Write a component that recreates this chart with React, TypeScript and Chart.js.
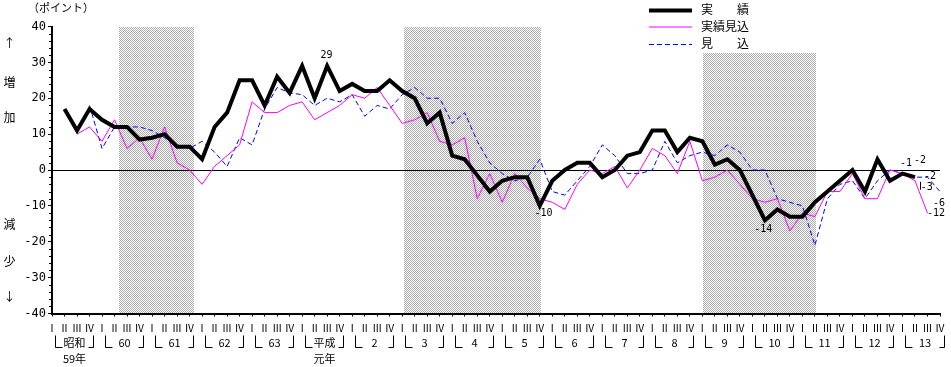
import React, { useEffect, useRef } from 'react';
import { Chart, registerables } from 'chart.js';

Chart.register(...registerables);

// ---- data ----
const QUARTER_NAMES = ['Ⅰ', 'Ⅱ', 'Ⅲ', 'Ⅳ'];
const YEAR_NAMES = ['昭和', '60', '61', '62', '63', '平成', '2', '3', '4', '5', '6', '7', '8', '9', '10', '11', '12', '13'];
const YEAR_SUB_NAMES = ['59年', '', '', '', '', '元年', '', '', '', '', '', '', '', '', '', '', '', ''];
const CATEGORIES = YEAR_NAMES.flatMap(() => QUARTER_NAMES);

const Y_MIN = -40;
const Y_MAX = 40;
const Y_STEP = 10;
const Y_MINOR_STEP = 2;

const SERIES_NAMES = ['実　　績', '実績見込', '見　　込'];

// 実績
const JISSEKI = [null, 17, 11, 17, 14, 12, 12, 8.5, 9, 10, 6.5, 6.5, 3, 12, 16, 25, 25, 18, 26, 21.5, 29, 20, 29, 22, 24, 22, 22, 25, 22, 20, 13, 16, 4, 3, -1.5, -6, -3, -2, -2, -10, -3, 0, 2, 2, -2, 0, 4, 5, 11, 11, 5, 9, 8, 1.5, 3, 0, -7, -14, -11, -13, -13, -9, -6, -3, 0, -6, 3, -3, -1, -2, null, null];
// 実績見込
const JISSEKI_MIKOMI = [null, null, 10, 12, 8, 14, 6, 9, 3, 12, 2, 0, -4, 1, 4, 7, 19, 16, 16, 18, 19, 14, 16, 18, 21, 20, 23, 18, 13, 14, 16, 8, 7, 9, -8, -1, -9, -1, -5, -8, -9, -11, -4, 0, -1, 1, -5, 0, 6, 4, -1, 8, -3, -2, 0, -4, -8, -9, -8, -17, -12, -13, -6, -6, -1, -8, -8, 0, -1, -3, -12, null];
// 見込
const MIKOMI = [null, null, null, 18, 6, 12, 12, 12, 11, 9, 7, 6, 8, 5, 1, 9, 7, 17, 23, 21.5, 21, 18, 20, 19, 21, 15, 18, 17, 21, 23, 20, 20, 13, 16, 8, 2, -1, -3, -2, 3, -6, -7, -3, 1, 7, 4, -1, -1, 0, 8, 2, 4, 5, 4, 7, 5, 0, 0, -8, -9, -10, -21, -8, -4, -3, -8, -3, 0, -1, -2, -2, -6];

// shaded periods (in quarter-index units) and their top value
const SHADE_FROM = [5.37, 28.12, 52.08];
const SHADE_TO = [11.36, 39.12, 61.08];
const SHADE_TOP = [40, 40, 32.6];

// value annotations
const NOTE_TEXT = ['29', '-10', '-14', '-1', '-2', '-2', '-3', '-6', '-12'];
const NOTE_SERIES = [0, 0, 0, 0, 0, 2, 1, 2, 1];
const NOTE_INDEX = [22, 39, 57, 68, 69, 70, 69, 71, 70];

// ---- styles ----
const NOTE_DX = [-6.7, -5.2, -10.6, -2.4, -0.9, -3.5, 5.8, -7, -0.5];
const NOTE_DY = [-11, 8, 9.5, -10.5, -17, -1, 7, 11.5, 0];
const SERIES_COLORS = ['#000000', '#ff00ff', '#0000ff'];
const SERIES_WIDTHS = [4, 1, 1];
const SERIES_DASH = [[], [], [5, 3]];
const CJK = '"Noto Sans CJK JP", sans-serif';
const MONO = '"DejaVu Sans Mono", monospace';

function makePattern(ctx: CanvasRenderingContext2D) {
  const pc = document.createElement('canvas');
  pc.width = 2;
  pc.height = 2;
  const p = pc.getContext('2d')!;
  p.fillStyle = '#ffffff';
  p.fillRect(0, 0, 2, 2);
  p.fillStyle = '#ababab';
  p.fillRect(0, 0, 1, 1);
  p.fillRect(1, 1, 1, 1);
  return ctx.createPattern(pc, 'repeat');
}

const decor = {
  id: 'decor',
  beforeDraw(chart: any) {
    const { ctx, scales } = chart;
    const x = scales.x;
    const y = scales.y;
    ctx.save();
    const pat = makePattern(ctx);
    if (pat) ctx.fillStyle = pat;
    for (let k = 0; k < SHADE_FROM.length; k++) {
      const x0 = Math.round(x.getPixelForValue(SHADE_FROM[k]));
      const x1 = Math.round(x.getPixelForValue(SHADE_TO[k]));
      const y0 = Math.round(y.getPixelForValue(SHADE_TOP[k]));
      const y1 = Math.round(y.getPixelForValue(Y_MIN));
      ctx.fillRect(x0, y0, x1 - x0, y1 - y0);
    }
    ctx.restore();
  },
  afterDraw(chart: any) {
    const { ctx, chartArea, scales } = chart;
    const x = scales.x;
    const y = scales.y;
    ctx.save();
    ctx.fillStyle = '#000';
    ctx.strokeStyle = '#000';
    ctx.lineWidth = 1;

    // minor y ticks
    ctx.beginPath();
    for (let v = Y_MIN; v <= Y_MAX; v += Y_MINOR_STEP) {
      if (v % Y_STEP === 0) continue;
      const yy = Math.round(y.getPixelForValue(v)) + 0.5;
      ctx.moveTo(chartArea.left - 3, yy);
      ctx.lineTo(chartArea.left, yy);
    }
    ctx.stroke();

    // year brackets
    const b = chartArea.bottom;
    ctx.font = `11px ${CJK}`;
    ctx.textAlign = 'center';
    ctx.textBaseline = 'middle';
    for (let j = 0; j < YEAR_NAMES.length; j++) {
      const x0 = Math.round(x.getPixelForValue(j * 4) + 2.5) + 0.5;
      const x1 = Math.round(x.getPixelForValue(j * 4 + 3) + 3.5) + 0.5;
      const yTop = Math.round(b + 21.5) + 0.5;
      const yBot = Math.round(b + 33) + 0.5;
      ctx.beginPath();
      ctx.moveTo(x0, yTop);
      ctx.lineTo(x0, yBot);
      ctx.lineTo(x0 + 7, yBot);
      ctx.moveTo(x1 - 5, yBot);
      ctx.lineTo(x1, yBot);
      ctx.lineTo(x1, yTop);
      ctx.stroke();
      const cx = (x0 + x1) / 2;
      ctx.fillText(YEAR_NAMES[j], cx, b + 29);
      if (YEAR_SUB_NAMES[j]) ctx.fillText(YEAR_SUB_NAMES[j], cx, b + 45);
    }

    // unit label and side labels
    ctx.font = `11px ${CJK}`;
    ctx.fillText('（ポイント）', 61, 8);
    ctx.font = `12px ${CJK}`;
    const side = [['↑', 43], ['増', 82], ['加', 117], ['減', 224], ['少', 261], ['↓', 296]];
    for (const [t, yy] of side) ctx.fillText(t as string, 9.5, yy as number);

    // legend
    const legY = [10.5, 27, 44.5];
    for (let s = 0; s < 3; s++) {
      ctx.beginPath();
      ctx.strokeStyle = SERIES_COLORS[s];
      ctx.lineWidth = SERIES_WIDTHS[s];
      ctx.setLineDash(SERIES_DASH[s]);
      ctx.moveTo(649, legY[s]);
      ctx.lineTo(692, legY[s]);
      ctx.stroke();
      ctx.setLineDash([]);
      ctx.fillStyle = '#000';
      ctx.textAlign = 'left';
      ctx.fillText(SERIES_NAMES[s], 701, legY[s] - 1);
    }

    // value notes
    ctx.font = `10px ${MONO}`;
    ctx.textAlign = 'left';
    ctx.textBaseline = 'middle';
    ctx.fillStyle = '#000';
    for (let n = 0; n < NOTE_TEXT.length; n++) {
      const meta = chart.getDatasetMeta(NOTE_SERIES[n]);
      const pt = meta.data[NOTE_INDEX[n]];
      const tx = pt.x + NOTE_DX[n];
      const ty = pt.y + NOTE_DY[n];
      ctx.fillText(NOTE_TEXT[n], tx, ty);
      if (NOTE_TEXT[n] === '-3') {
        ctx.strokeStyle = '#000';
        ctx.lineWidth = 1;
        ctx.beginPath();
        ctx.moveTo(Math.round(tx) - 0.5, ty - 6);
        ctx.lineTo(Math.round(tx) - 0.5, ty + 2);
        ctx.stroke();
      }
    }
    ctx.restore();
  },
};

export default function App() {
  const ref = useRef<HTMLCanvasElement>(null);
  useEffect(() => {
    const canvas = ref.current!;
    const seriesData = [JISSEKI, JISSEKI_MIKOMI, MIKOMI];
    const chart = new Chart(canvas, {
      type: 'line',
      data: {
        labels: CATEGORIES,
        datasets: seriesData.map((d, s) => ({
          label: SERIES_NAMES[s],
          data: d,
          borderColor: SERIES_COLORS[s],
          borderWidth: SERIES_WIDTHS[s],
          borderDash: SERIES_DASH[s],
          pointRadius: 0,
          pointHoverRadius: 0,
          tension: 0,
          fill: false,
          spanGaps: false,
        })),
      },
      options: {
        responsive: false,
        maintainAspectRatio: false,
        animation: false,
        events: [],
        layout: { padding: { top: 26.5, right: 10, left: 0, bottom: 0 } },
        plugins: {
          legend: { display: false },
          tooltip: { enabled: false },
          title: { display: false },
        },
        scales: {
          x: {
            type: 'category',
            offset: false,
            afterFit: (scale: any) => {
              scale.height = 53.5;
            },
            grid: {
              drawOnChartArea: false,
              drawTicks: true,
              tickLength: 3,
              tickColor: '#000',
              color: '#000',
            },
            border: { display: true, color: '#000', width: 2 },
            ticks: {
              autoSkip: false,
              maxRotation: 0,
              minRotation: 0,
              color: '#000',
              padding: 6,
              font: { family: CJK, size: 10 },
            },
          },
          y: {
            min: Y_MIN,
            max: Y_MAX,
            afterFit: (scale: any) => {
              scale.width = 52;
            },
            grid: {
              drawOnChartArea: true,
              drawTicks: true,
              tickLength: 4,
              tickColor: '#000',
              color: (c: any) => (c.tick && c.tick.value === 0 ? '#000' : 'rgba(0,0,0,0)'),
              lineWidth: 1,
            },
            border: { display: true, color: '#000', width: 2 },
            ticks: {
              stepSize: Y_STEP,
              color: '#000',
              padding: 2,
              font: { family: MONO, size: 12 },
            },
          },
        },
      },
      plugins: [decor],
    } as any);
    return () => chart.destroy();
  }, []);
  return (
    <div style={{ position: 'absolute', left: 0, top: 0, width: 951, height: 367 }}>
      <canvas ref={ref} width={951} height={367} style={{ display: 'block', width: 951, height: 367 }} />
    </div>
  );
}
